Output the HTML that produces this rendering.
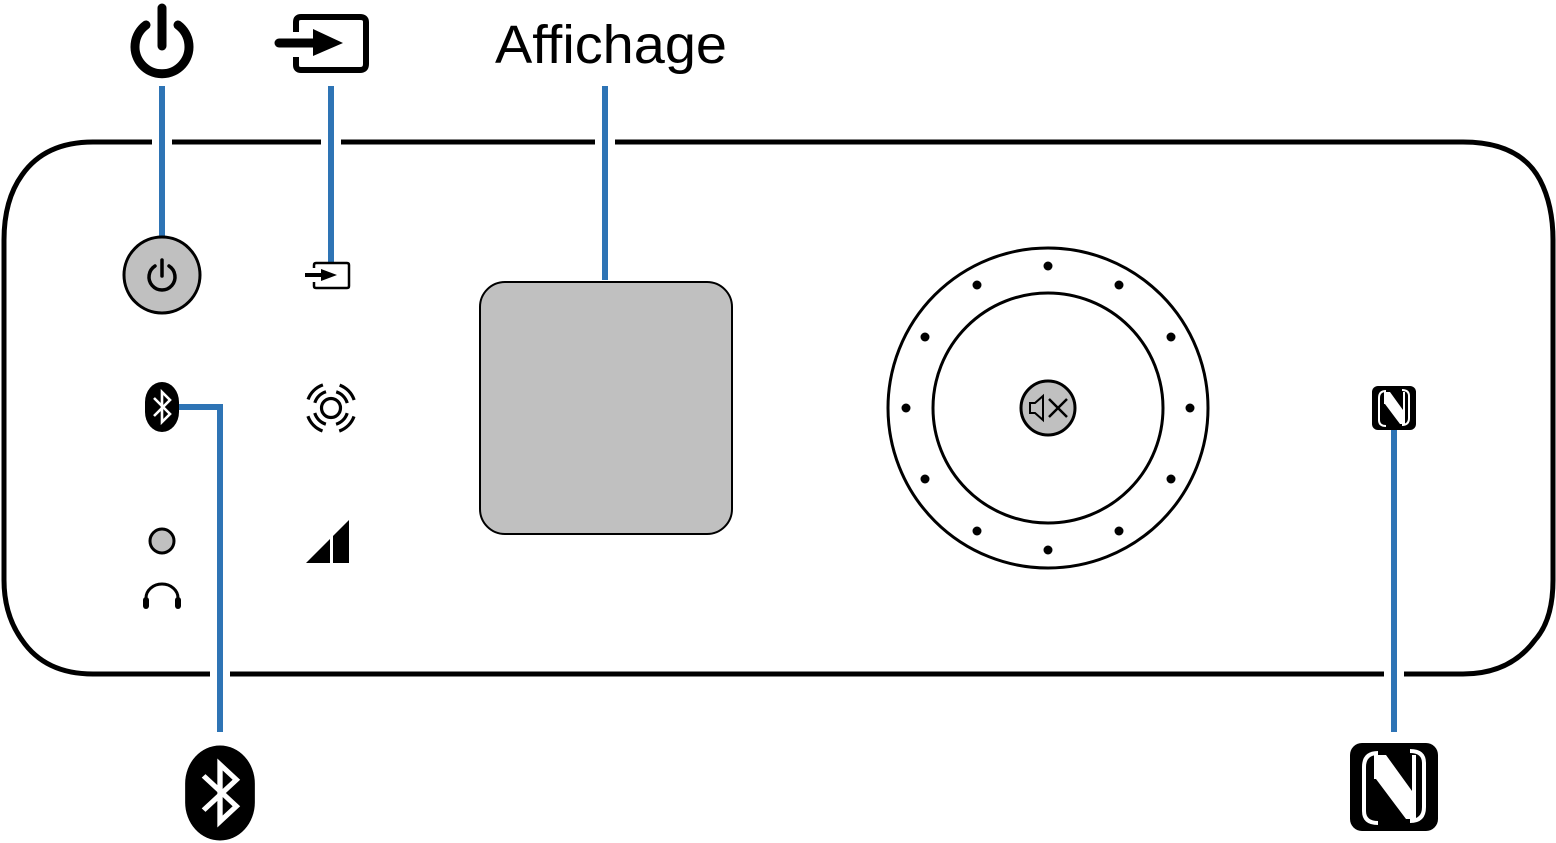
<!DOCTYPE html><html><head><style>body{margin:0;background:#fff}svg{display:block}</style></head><body>
<svg width="1556" height="843" viewBox="0 0 1556 843" xmlns="http://www.w3.org/2000/svg">
<defs>
<g id="bt"><rect x="-17" y="-25" width="34" height="50" rx="17" ry="20" fill="#000"/><polyline points="-8,-9 8,7 0,15 0,-15 8,-7 -8,9" fill="none" stroke="#fff" stroke-width="2.6"/></g>
<g id="nfc"><rect x="-22" y="-22" width="44" height="44" rx="6" fill="#000"/>
<path d="M-8,-17 Q-15,-17 -15,-10 V12 Q-15,18 -8,18" fill="none" stroke="#fff" stroke-width="2"/>
<path d="M8,17 Q15,17 15,10 V-12 Q15,-18 8,-18" fill="none" stroke="#fff" stroke-width="2"/>
<path d="M-9,-16 H-4 L9,2 V-16 L11,-16 L11,16 H6 L-9,-4 Z" fill="#fff"/>
<path d="M-9,-16 L-9,-4" stroke="#fff" stroke-width="2"/></g>
</defs>
<path d="M93,142 H1463 Q1520,142 1540,180 Q1553,205 1553,240 V580 Q1553,620 1535,640 Q1510,674 1463,674 H93 Q45,674 22,640 Q4,615 4,580 V240 Q4,200 22,175 Q45,142 93,142 Z" fill="none" stroke="#000" stroke-width="5"/>
<g fill="#fff"><rect x="152" y="136" width="20" height="12"/><rect x="321" y="136" width="20" height="12"/><rect x="595" y="136" width="20" height="12"/><rect x="210" y="668" width="20" height="12"/><rect x="1384" y="668" width="20" height="12"/></g>
<g stroke="#2e74b5" stroke-width="6" fill="none">
<line x1="162" y1="86" x2="162" y2="238"/><line x1="331" y1="86" x2="331" y2="262"/><line x1="605" y1="86" x2="605" y2="280"/>
<polyline points="178,407 220,407 220,732"/><line x1="1394" y1="430" x2="1394" y2="732"/>
</g>
<path d="M146,25 A27,27 0 1 0 178,25" fill="none" stroke="#000" stroke-width="9" stroke-linecap="round"/><line x1="162" y1="8" x2="162" y2="46" stroke="#000" stroke-width="9" stroke-linecap="round"/>
<path d="M296,32 V22 Q296,17 301,17 H360 Q366,17 366,22 V64 Q366,70 360,70 H301 Q296,70 296,65 V57" fill="none" stroke="#000" stroke-width="6"/>
<line x1="279" y1="43" x2="315" y2="43" stroke="#000" stroke-width="9" stroke-linecap="round"/><polygon points="313,29 343,43 313,56" fill="#000"/>
<text x="495" y="63" font-family="Liberation Sans, sans-serif" font-size="54" textLength="232" lengthAdjust="spacingAndGlyphs">Affichage</text>
<circle cx="162" cy="275" r="38" fill="#c0c0c0" stroke="#000" stroke-width="3"/>
<path d="M155,266 A13,13 0 1 0 169,266" fill="none" stroke="#000" stroke-width="3.5" stroke-linecap="round"/><line x1="162" y1="260" x2="162" y2="276" stroke="#000" stroke-width="3.5" stroke-linecap="round"/>
<path d="M314,268 V265 Q314,263 316,263 H347 Q349,263 349,265 V286 Q349,288 347,288 H316 Q314,288 314,286 V282" fill="none" stroke="#000" stroke-width="2.5"/>
<line x1="305" y1="275" x2="322" y2="275" stroke="#000" stroke-width="4"/><polygon points="321,269 337,275 321,281" fill="#000"/>
<use href="#bt" x="162" y="407"/>
<g fill="none" stroke="#000" stroke-width="3.2"><circle cx="331" cy="408" r="9.5"/>
<circle cx="331" cy="408" r="17" stroke-dasharray="16.3 10.4" stroke-dashoffset="-5.2"/>
<circle cx="331" cy="408" r="24.5" stroke-dasharray="21.4 17.1" stroke-dashoffset="-8.6"/></g>
<circle cx="162" cy="541" r="12" fill="#c0c0c0" stroke="#000" stroke-width="3"/>
<path d="M146,603 V598 A16,14 0 0 1 178,598 V603" fill="none" stroke="#000" stroke-width="3"/><rect x="143" y="597" width="6" height="12" rx="3"/><rect x="175" y="597" width="6" height="12" rx="3"/>
<polygon points="306,563 330,563 330,539" fill="#000"/><polygon points="333,536 349,520 349,563 333,563" fill="#000"/>
<rect x="480" y="282" width="252" height="252" rx="25" fill="#c0c0c0" stroke="#000" stroke-width="2"/>
<circle cx="1048" cy="408" r="160" fill="none" stroke="#000" stroke-width="3"/>
<circle cx="1048" cy="408" r="115" fill="none" stroke="#000" stroke-width="3"/>
<g fill="#000">
<circle cx="1048" cy="266" r="4.5"/><circle cx="1119" cy="285" r="4.5"/><circle cx="1171" cy="337" r="4.5"/><circle cx="1190" cy="408" r="4.5"/><circle cx="1171" cy="479" r="4.5"/><circle cx="1119" cy="531" r="4.5"/><circle cx="1048" cy="550" r="4.5"/><circle cx="977" cy="531" r="4.5"/><circle cx="925" cy="479" r="4.5"/><circle cx="906" cy="408" r="4.5"/><circle cx="925" cy="337" r="4.5"/><circle cx="977" cy="285" r="4.5"/></g>
<circle cx="1048" cy="408" r="27" fill="#c0c0c0" stroke="#000" stroke-width="3"/>
<path d="M1030,403 H1035 L1043,396 V420 L1035,413 H1030 Z" fill="none" stroke="#000" stroke-width="2"/><path d="M1049,399 L1067,417 M1067,399 L1049,417" stroke="#000" stroke-width="2.5"/>
<use href="#nfc" x="1394" y="408"/>
<g transform="translate(220,793) scale(2.05,1.9)"><use href="#bt"/></g>
<g transform="translate(1394,787) scale(2)"><use href="#nfc"/></g>
</svg></body></html>
